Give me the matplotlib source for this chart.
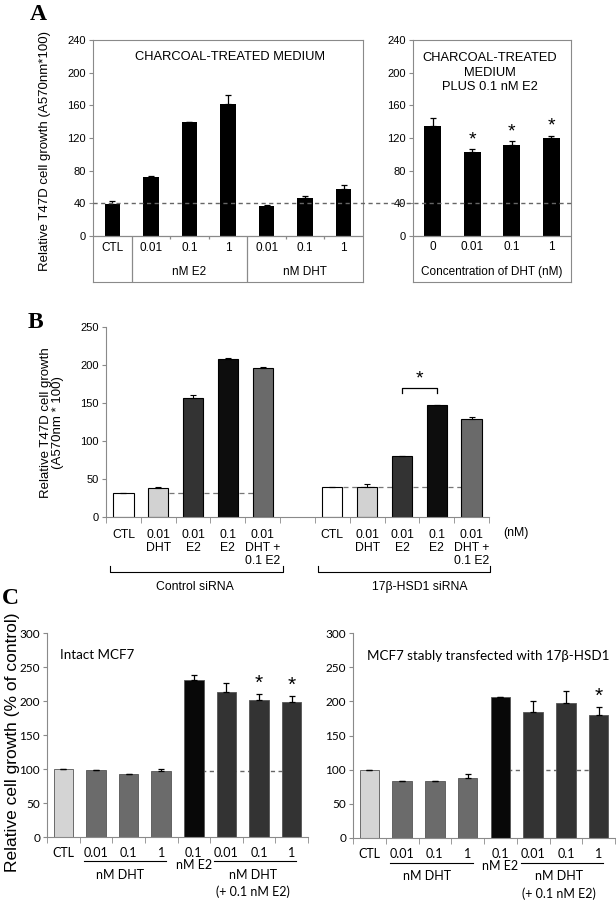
import matplotlib
matplotlib.use("Agg")
import matplotlib.pyplot as plt
from matplotlib.lines import Line2D
from matplotlib.transforms import blended_transform_factory
import numpy as np

plt.rcParams['font.family'] = ['Liberation Sans', 'DejaVu Sans']

# ---- panel A data ----
a_left_cats = ["CTL", "0.01", "0.1", "1", "0.01", "0.1", "1"]
a_left_vals = [39, 72, 140, 162, 37, 46, 57]
a_left_err = [4, 2, 0, 11, 1, 3, 6]
a_right_cats = ["0", "0.01", "0.1", "1"]
a_right_vals = [135, 103, 111, 120]
a_right_err = [10, 3, 5, 3]
a_right_sig = [False, True, True, True]

# ---- panel B data ----
b_cats = ["CTL", "0.01\nDHT", "0.01\nE2", "0.1\nE2", "0.01\nDHT +\n0.1 E2"]
b_ctrl_vals = [32, 38, 156, 208, 196]
b_ctrl_err = [0, 1, 5, 1, 1]
b_hsd_vals = [39, 39, 80, 148, 129]
b_hsd_err = [0, 4, 0, 0, 2]
b_colors = ["white", "#d2d2d2", "#333333", "#0d0d0d", "#6a6a6a"]

# ---- panel C data ----
c_cats = ["CTL", "0.01", "0.1", "1", "0.1\nnM E2", "0.01", "0.1", "1"]
c_intact_vals = [100, 98.5, 92, 96.5, 231, 213, 202, 199]
c_intact_err = [0, 0.5, 0, 3, 7, 13, 8, 8]
c_intact_sig = [False, False, False, False, False, False, True, True]
c_hsd_vals = [100, 83, 83, 88, 207, 184, 198, 180]
c_hsd_err = [0, 0, 0, 5, 0, 16, 17, 11]
c_hsd_sig = [False, False, False, False, False, False, False, True]
c_colors = ["#d4d4d4", "#6b6b6b", "#6b6b6b", "#6b6b6b", "#080808",
            "#333333", "#333333", "#333333"]

W, H = 616, 900
fig = plt.figure(figsize=(W / 100, H / 100), dpi=100)
GRAY = "#8a8a8a"


def px_axes(x0, y0, x1, y1):
    return fig.add_axes([x0 / W, 1 - y1 / H, (x1 - x0) / W, (y1 - y0) / H])


def up_err(ax, x, vals, err, lw=0.9):
    ax.errorbar(x, vals, yerr=[np.zeros(len(err)), err], fmt='none',
                ecolor='black', elinewidth=lw, capsize=2.5, capthick=lw, zorder=3)


# ================= A =================
a_ymin = -(282 - 236) / (236 - 40) * 240
axA = px_axes(93, 40, 363, 282)
xa = np.arange(len(a_left_vals))
axA.bar(xa, a_left_vals, width=0.4, color='black', zorder=2)
up_err(axA, xa, a_left_vals, a_left_err)
axA.set_xlim(-0.5, 6.5)
axA.set_ylim(a_ymin, 240)
axA.set_yticks(range(0, 241, 40))
axA.set_xticks([])
axA.axhline(0, color=GRAY, lw=0.9)
axA.vlines([0.5, 3.5], a_ymin, 0, color=GRAY, lw=0.9)
axA.vlines([1.5, 2.5, 4.5, 5.5], -4, 0, color=GRAY, lw=0.9)
for xi, lab in zip(xa, a_left_cats):
    axA.text(xi, -14.5, lab, ha='center', va='center', fontsize=8.5)
axA.text(2, -44, "nM E2", ha='center', va='center', fontsize=8.5)
axA.text(5, -44, "nM DHT", ha='center', va='center', fontsize=8.5)
axA.text(0.507, 0.93, "CHARCOAL-TREATED MEDIUM", transform=axA.transAxes,
         ha='center', va='center', fontsize=9.3)

axA2 = px_axes(413, 40, 571, 282)
xr = np.arange(len(a_right_vals))
axA2.bar(xr, a_right_vals, width=0.44, color='black', zorder=2)
up_err(axA2, xr, a_right_vals, a_right_err)
for xi, v, e, s in zip(xr, a_right_vals, a_right_err, a_right_sig):
    if s:
        axA2.text(xi, v + e + 1, "*", ha='center', va='bottom', fontsize=14)
axA2.set_xlim(-0.5, 3.5)
axA2.set_ylim(a_ymin, 240)
axA2.set_yticks(range(0, 241, 40))
axA2.set_xticks([])
axA2.axhline(0, color=GRAY, lw=0.9)
for xi, lab in zip(xr, a_right_cats):
    axA2.text(xi, -13.5, lab, ha='center', va='center', fontsize=8.5)
axA2.text(1.5, -44, "Concentration of DHT (nM)", ha='center', va='center', fontsize=8.5)
axA2.text(0.487, 0.865, "CHARCOAL-TREATED\nMEDIUM\nPLUS 0.1 nM E2", transform=axA2.transAxes,
          ha='center', va='center', fontsize=9.3, linespacing=1.3)

for ax in (axA, axA2):
    for sp in ax.spines.values():
        sp.set_color(GRAY)
    ax.tick_params(axis='y', labelsize=8, length=3, color=GRAY, pad=2)

# dashed baseline spanning both A panels
tr = blended_transform_factory(fig.transFigure, axA.transData)
fig.add_artist(Line2D([93 / W, 571 / W], [40, 40], transform=tr, color="#666666",
                      lw=1.0, ls=(0, (3, 2.5)), zorder=1))

fig.text(45 / W, 1 - 151 / H, "Relative T47D cell growth (A570nm*100)", rotation=90,
         ha='center', va='center', fontsize=9.5)
fig.text(30 / W, 1 - 15 / H, "A", fontsize=17, fontweight='bold',
         family='Liberation Serif', ha='left', va='center')

# ================= B =================
axB = px_axes(106, 327, 489, 517)
xb_ctrl = np.arange(5)
xb_hsd = np.arange(6, 11)
axB.bar(xb_ctrl, b_ctrl_vals, width=0.58, color=b_colors, edgecolor='black', lw=0.8, zorder=2)
axB.bar(xb_hsd, b_hsd_vals, width=0.58, color=b_colors, edgecolor='black', lw=0.8, zorder=2)
up_err(axB, xb_ctrl, b_ctrl_vals, b_ctrl_err, lw=0.8)
up_err(axB, xb_hsd, b_hsd_vals, b_hsd_err, lw=0.8)
axB.hlines(b_ctrl_vals[0], 1.3, 4.0, color="#777777", lw=0.9, ls=(0, (4, 3)), zorder=1)
axB.hlines(b_hsd_vals[0], 6.3, 9.7, color="#777777", lw=0.9, ls=(0, (4, 3)), zorder=1)
axB.set_xlim(-0.5, 10.5)
axB.set_ylim(0, 250)
axB.set_yticks(range(0, 251, 50))
axB.set_xticks(list(xb_ctrl) + list(xb_hsd))
axB.set_xticklabels(b_cats + b_cats, fontsize=8.8, linespacing=1.1)
axB.set_xticks(np.arange(-0.5, 11, 1), minor=True)
axB.tick_params(axis='x', which='major', length=0, pad=9)
axB.tick_params(axis='x', which='minor', length=4, color=GRAY)
axB.tick_params(axis='y', labelsize=8, length=3, color=GRAY, pad=2)
for sp in ('top', 'right'):
    axB.spines[sp].set_visible(False)
for sp in ('left', 'bottom'):
    axB.spines[sp].set_color(GRAY)
axB.text(10.9, -21, "(nM)", ha='left', va='center', fontsize=8.8, clip_on=False)

# significance bracket
axB.plot([8, 8, 9, 9], [163, 170, 170, 163], color='black', lw=0.9, clip_on=False)
axB.text(8.5, 171, "*", ha='center', va='bottom', fontsize=14)

# group brackets
for x0, x1, lab, xc in ((-0.385, 4.59, "Control siRNA", 2.05),
                        (5.59, 10.54, "17\u03b2-HSD1 siRNA", 8.5)):
    axB.plot([x0, x0, x1, x1], [-65, -72.5, -72.5, -65], color='black', lw=0.8, clip_on=False)
    axB.text(xc, -92, lab, ha='center', va='center', fontsize=8.8, clip_on=False)

fig.text(52 / W, 1 - 423 / H, "Relative T47D cell growth\n(A570nm * 100)", rotation=90,
         ha='center', va='center', fontsize=9.5, linespacing=1.1)
fig.text(28 / W, 1 - 323 / H, "B", fontsize=17, fontweight='bold',
         family='Liberation Serif', ha='left', va='center')

# ================= C =================
cfont = ['Lato', 'Liberation Sans']


def panel_c(ax, vals, err, sig, dash_y, title, title_x):
    xc = np.arange(len(vals))
    ax.bar(xc, vals, width=0.6, color=c_colors, edgecolor='#555555', lw=0.6, zorder=2)
    up_err(ax, xc, vals, err)
    for xi, v, e, s in zip(xc, vals, err, sig):
        if s:
            ax.text(xi, v + e + 2, "*", ha='center', va='bottom', fontsize=15)
    ax.hlines(dash_y, 4.0, 7.0, color="#666666", lw=1.0, ls=(0, (3, 2.5)), zorder=1)
    ax.set_xlim(-0.5, 7.5)
    ax.set_ylim(0, 300)
    ax.set_yticks(range(0, 301, 50))
    ax.set_yticklabels([str(v) for v in range(0, 301, 50)], family=cfont)
    ax.set_xticks(xc)
    ax.set_xticklabels(c_cats, fontsize=9, family=cfont, linespacing=1.0)
    ax.set_xticks(np.arange(-0.5, 8, 1), minor=True)
    ax.tick_params(axis='x', which='major', length=0, pad=7)
    ax.tick_params(axis='x', which='minor', length=4, color=GRAY)
    ax.tick_params(axis='y', labelsize=8.5, length=3, color=GRAY, pad=2)
    for sp in ('top', 'right'):
        ax.spines[sp].set_visible(False)
    for sp in ('left', 'bottom'):
        ax.spines[sp].set_color(GRAY)
    ax.plot([0.64, 3.15], [-36, -36], color='black', lw=0.8, clip_on=False)
    ax.plot([4.62, 7.12], [-36, -36], color='black', lw=0.8, clip_on=False)
    ax.text(1.75, -56, "nM DHT", ha='center', va='center', fontsize=9, family=cfont)
    ax.text(5.8, -56, "nM DHT", ha='center', va='center', fontsize=9, family=cfont)
    ax.text(5.8, -81, "(+ 0.1 nM E2)", ha='center', va='center', fontsize=9, family=cfont)
    ax.text(title_x, 0.89, title, transform=ax.transAxes, ha='left', va='center',
            fontsize=9.6, family=cfont)


axC1 = px_axes(47, 633, 308, 837)
panel_c(axC1, c_intact_vals, c_intact_err, c_intact_sig, 97, "Intact MCF7", 0.05)
axC2 = px_axes(353, 633, 615, 838)
panel_c(axC2, c_hsd_vals, c_hsd_err, c_hsd_sig, 100,
        "MCF7 stably transfected with 17\u03b2-HSD1", 0.055)

fig.text(13 / W, 1 - 742 / H, "Relative cell growth (% of control)", rotation=90,
         ha='center', va='center', fontsize=12.5)
fig.text(2 / W, 1 - 598 / H, "C", fontsize=17, fontweight='bold',
         family='Liberation Serif', ha='left', va='center')

fig.savefig("out.png", dpi=100)
